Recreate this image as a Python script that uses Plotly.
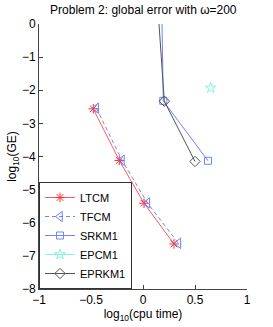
import plotly.graph_objects as go

ltcm_x = [-0.478, -0.228, 0.010, 0.298]
ltcm_y = [-2.56, -4.12, -5.41, -6.64]
tfcm_x = [-0.449, -0.202, 0.042, 0.340]
tfcm_y = [-2.54, -4.11, -5.40, -6.62]
srkm1_x = [0.172, 0.195, 0.625]
srkm1_y = [2.0, -2.32, -4.13]
epcm1_x = [0.651]
epcm1_y = [-1.93]
eprkm1_x = [0.11, 0.205, 0.500]
eprkm1_y = [2.0, -2.33, -4.15]

fig = go.Figure()
fig.add_trace(go.Scatter(x=ltcm_x, y=ltcm_y, name="LTCM", mode="lines+markers",
                         line=dict(color="#ff5a5a", width=1),
                         marker=dict(symbol="asterisk-open", size=8, color="#ff3030",
                                     line=dict(color="#ff3030", width=1))))
fig.add_trace(go.Scatter(x=tfcm_x, y=tfcm_y, name="TFCM", mode="lines+markers",
                         line=dict(color="#6f82ff", width=1, dash="4px,3px"),
                         marker=dict(symbol="triangle-left-open", size=9, color="#6f82ff",
                                     line=dict(color="#6f82ff", width=1))))
fig.add_trace(go.Scatter(x=srkm1_x, y=srkm1_y, name="SRKM1", mode="lines+markers",
                         line=dict(color="#6f82ff", width=1),
                         marker=dict(symbol="square-open", size=7, color="#6f82ff",
                                     line=dict(color="#6f82ff", width=1))))
fig.add_trace(go.Scatter(x=epcm1_x, y=epcm1_y, name="EPCM1", mode="lines+markers",
                         line=dict(color="#80f5e0", width=1),
                         marker=dict(symbol="star-open", size=8, color="#80f5e0",
                                     line=dict(color="#80f5e0", width=1))))
fig.add_trace(go.Scatter(x=eprkm1_x, y=eprkm1_y, name="EPRKM1", mode="lines+markers",
                         line=dict(color="#555555", width=1),
                         marker=dict(symbol="diamond-open", size=8, color="#555555",
                                     line=dict(color="#555555", width=1))))

fig.update_layout(
    width=273, height=327,
    margin=dict(l=39, r=26, t=24, b=38),
    paper_bgcolor="white", plot_bgcolor="white",
    font=dict(family="Liberation Sans, Arial, sans-serif", size=12, color="black"),
    title=dict(text="Problem 2: global error with ω=200", x=0.525, xanchor="center",
               y=0.969, yanchor="middle", font=dict(size=12)),
    showlegend=True,
    legend=dict(x=0, y=0, xanchor="left", yanchor="bottom", bgcolor="white",
                bordercolor="#333333", borderwidth=1, font=dict(size=11),
                tracegroupgap=0, itemwidth=30),
    xaxis=dict(range=[-1, 1], dtick=0.5, tick0=-1, showgrid=False, zeroline=False,
               showline=True, linecolor="#444444", linewidth=1, ticks="inside",
               ticklen=4, tickcolor="#444444", tickfont=dict(size=12),
               title=dict(text="log<sub>10</sub>(cpu time)", standoff=0, font=dict(size=12))),
    yaxis=dict(range=[-8, 0], dtick=1, showgrid=False, zeroline=False,
               showline=True, linecolor="#444444", linewidth=1, ticks="inside",
               ticklen=4, tickcolor="#444444", tickfont=dict(size=12),
               title=dict(text="log<sub>10</sub>(GE)", standoff=2, font=dict(size=12))),
)
fig.write_html("out.html", config={"displayModeBar": False},
               post_script="document.body.style.margin='0px';")
